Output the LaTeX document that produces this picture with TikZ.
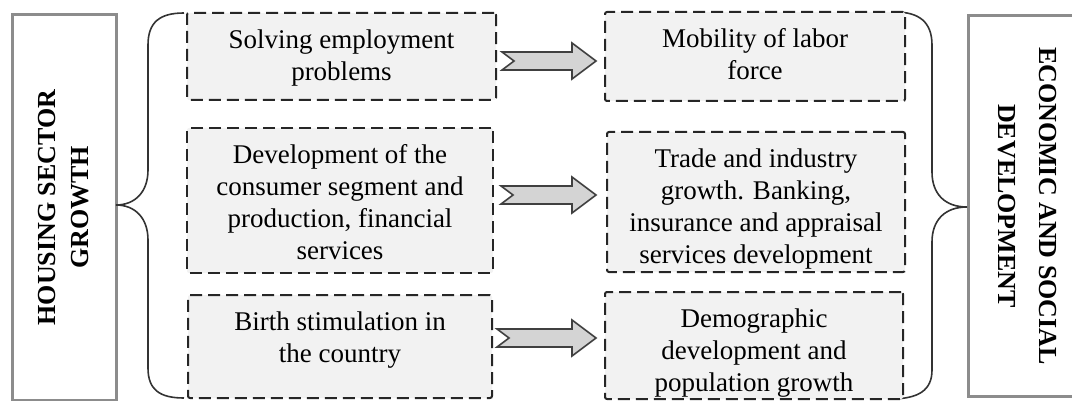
\documentclass[tikz,border=0pt]{standalone}
\usepackage{fontspec}
\setmainfont{Liberation Serif}
\usetikzlibrary{calc}

% block arrow between two boxes: from, to, height of its axis
\newcommand{\blockarrow}[5]{%
  \coordinate (tail) at ($(#1.east |- 0,#3)+(#4,0)$);
  \coordinate (tip) at ($(#2.west |- 0,#3)+(#5,0)$);
  \draw[bigarrow] ($(tail)+(0,-9)$) -- ($(tip)+(-24,-9)$) -- ($(tip)+(-24,-18)$) -- (tip)
    -- ($(tip)+(-24,18)$) -- ($(tip)+(-24,9)$) -- ($(tail)+(0,9)$) -- ($(tail)+(12,0)$) -- cycle;}

\begin{document}
\begin{tikzpicture}[x=0.5pt, y=-0.5pt,
    dashbox/.style={draw=black!85, line width=1pt, dash pattern=on 6pt off 3pt, fill=black!5, rounded corners=1pt, inner sep=0pt},
    boxtext/.style={anchor=north, yshift=-8.5pt, align=center, inner sep=0pt, font=\fontsize{13.5}{16}\selectfont},
    titlebox/.style={draw=black!45, line width=1.5pt, align=center, inner sep=0pt},
    bigarrow/.style={draw=black!75, line width=0.8pt, fill=black!17, line join=miter},
    bracket/.style={draw=black!80, line width=0.8pt}]

    \useasboundingbox (0,0) rectangle (1072,401);

    % Title boxes
    \node[titlebox, rotate=90, minimum width=192.5pt, minimum height=52pt,
          font=\fontsize{13}{16.5}\selectfont\bfseries] (hsg) at (64,207.5) {HOUSING SECTOR\\GROWTH};
    \node[titlebox, rotate=-90, minimum width=190pt, minimum height=59pt,
          font=\fontsize{13}{20.5}\selectfont\bfseries] (esd) at (1027,206) {ECONOMIC AND SOCIAL\\DEVELOPMENT};

    % Braces
    \draw[bracket] (184,13) .. controls (160,13) and (148,22) .. (148,45) -- (148,170)
        .. controls (148,192) and (135,205) .. (116,205)
        .. controls (135,205) and (148,218) .. (148,240) -- (148,368)
        .. controls (148,390) and (160,398) .. (184,398);
    \draw[bracket] (895,12) .. controls (919,12) and (932,22) .. (932,45) -- (932,172)
        .. controls (932,194) and (945,207) .. (967,207)
        .. controls (945,207) and (932,220) .. (932,242) -- (932,370)
        .. controls (932,390) and (919,399) .. (890,399);

    % Left column
    \node[dashbox, minimum width=154.5pt, minimum height=43.5pt,
          label={[boxtext]north:{Solving employment\\problems}}] (l1) at (341.5,56.5) {};
    \node[dashbox, minimum width=153pt, minimum height=72.5pt,
          label={[boxtext]north:{Development of the\\consumer segment and\\production, financial\\services}}] (l2) at (340,200.5) {};
    \node[dashbox, minimum width=152pt, minimum height=51.5pt,
          label={[boxtext]north:{Birth stimulation in\\the country}}] (l3) at (340,346.5) {};

    % Right column
    \node[dashbox, minimum width=150pt, minimum height=44.5pt,
          label={[boxtext]north:{Mobility of labor\\force}}] (r1) at (755,56.5) {};
    \node[dashbox, minimum width=149pt, minimum height=70pt,
          label={[boxtext]north:{Trade and industry\\growth. Banking,\\insurance and appraisal\\services development}}] (r2) at (756,202) {};
    \node[dashbox, minimum width=149pt, minimum height=53.5pt,
          label={[boxtext]north:{Demographic\\development and\\population growth}}] (r3) at (754,345.5) {};

    % Arrows
    \blockarrow{l1}{r1}{61}{5}{-8}
    \blockarrow{l2}{r2}{195}{7}{-10}
    \blockarrow{l3}{r3}{338}{4}{-8}

\end{tikzpicture}
\end{document}
